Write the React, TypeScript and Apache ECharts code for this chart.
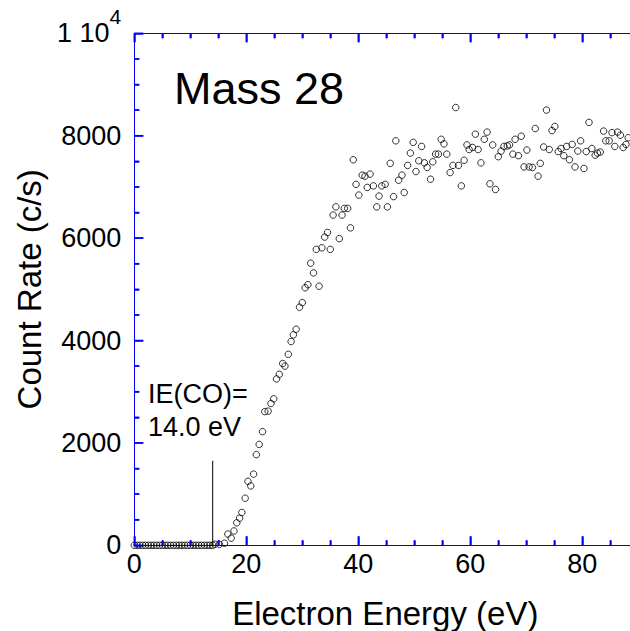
import React, { useEffect, useRef } from "react";
import * as echarts from "echarts";

const energies = [
  0, 0.5, 1, 1.5, 2, 2.5, 3, 3.5, 4, 4.5, 5, 5.5, 6, 6.5, 7, 7.5, 8, 8.5, 9, 9.5,
  10, 10.5, 11, 11.5, 12, 12.5, 13, 13.5, 14,
  14.4, 15.2, 16.1, 16.7, 17.3, 17.8, 18.3, 18.8, 19.2, 19.8,
  20.3, 20.8, 21.3, 21.8, 22.3, 22.9, 23.3, 23.9, 24.4, 24.9,
  25.4, 25.9, 26.5, 26.9, 27.5, 28.0, 28.4, 28.9, 29.5, 30.0,
  30.5, 31.0, 31.5, 32.0, 32.5, 33.0, 33.5, 34.0, 34.5, 35.0,
  35.5, 36.0, 36.6, 37.1, 37.5, 38.1, 38.6, 39.1, 39.6, 40.1,
  40.7, 41.2, 41.6, 42.1, 42.7, 43.3, 43.7, 44.2, 44.8, 45.2,
  45.7, 46.3, 46.7, 47.2, 47.8, 48.2, 48.8, 49.3, 49.8, 50.3,
  50.8, 51.3, 51.8, 52.3, 52.9, 53.3, 53.8, 54.3, 54.8, 55.3,
  55.8, 56.4, 56.9, 57.4, 57.9, 58.4, 58.9, 59.4, 59.8, 60.4,
  60.9, 61.4, 61.9, 62.5, 63.0, 63.5, 64.0, 64.5, 65.0, 65.5,
  66.0, 66.6, 67.0, 67.6, 68.0, 68.6, 69.1, 69.6, 70.1, 70.5,
  71.1, 71.6, 72.1, 72.5, 73.1, 73.6, 74.1, 74.6, 75.1, 75.7,
  76.2, 76.7, 77.2, 77.7, 78.2, 78.7, 79.2, 79.7, 80.3, 80.7,
  81.2, 81.7, 82.3, 82.7, 83.2, 83.8, 84.2, 84.8, 85.3, 85.8,
  86.3, 86.8, 87.3, 87.8, 88.2,
];

// Count rate (c/s) of every point, same order as energies
const counts = [
  0, 0, 0, 0, 0, 0, 0, 0, 0, 0, 0, 0, 0, 0, 0, 0, 0, 0, 0, 0,
  0, 0, 0, 0, 0, 0, 0, 0, 0,
  20, 20, 40, 220, 140, 280, 440, 530, 640, 920,
  1250, 1160, 1390, 1770, 1970, 2220, 2610, 2620, 2770, 2860,
  3250, 3340, 3550, 3500, 3730, 3980, 4110, 4220, 4650, 4740,
  5030, 5090, 5510, 5320, 5780, 5060, 5810, 6020, 6110, 5780,
  6450, 6610, 5990, 6450, 6580, 6580, 6200, 7530, 7050, 6840,
  7230, 7210, 6990, 7250, 7020, 6610, 6820, 7020, 7050, 6610,
  7460, 6810, 7900, 7130, 7230, 6890, 7420, 7660, 7870, 7300,
  7510, 7790, 7470, 7380, 7150, 7490, 7640, 7640, 7930, 7840,
  7640, 7280, 7420, 8550, 7420, 7020, 7520, 7820, 7730, 7770,
  8030, 7730, 7470, 7930, 8070, 7060, 7820, 6950, 7590, 7700,
  7790, 7800, 7820, 7640, 7930, 7610, 7990, 7390, 7720, 7390,
  7380, 8140, 7210, 7460, 7780, 8500, 7730, 8100, 8180, 7690,
  7750, 7610, 7790, 7530, 7830, 7390, 7700, 7900, 7360, 7690,
  8260, 7750, 7620, 7660, 7680, 8090, 7900, 7900, 8060, 7790,
  8070, 8010, 7770, 7830, 7960,
];

// Ionisation-energy marker
const ieEnergy = 14.0;
const ieLineTop = 1650;

// Tick positions of the frame (ticks point into the plot)
const xTickValues = [0, 5, 10, 15, 20, 25, 30, 35, 40, 45, 50, 55, 60, 65, 70, 75, 80, 85, 90];
const yTickValues = [
  0, 500, 1000, 1500, 2000, 2500, 3000, 3500, 4000, 4500, 5000,
  5500, 6000, 6500, 7000, 7500, 8000, 8500, 9000, 9500, 10000,
];
const xMajorStep = 20;
const yMajorStep = 2000;

const titleText = "Mass 28";
const ieLabelLines = ["IE(CO)=", "14.0 eV"];

const FONT = "'Liberation Sans', Arial, Helvetica, sans-serif";
const BLUE = "#0000ff";

const W = 630;
const H = 631;
const MAJOR_LEN = 9;
const MINOR_LEN = 5;
const TICK_W = 1.5;

export default function App() {
  const ref = useRef<HTMLDivElement>(null);

  useEffect(() => {
    if (!ref.current) return;
    const chart = echarts.init(ref.current, undefined, { renderer: "svg" });

    const points = energies.map((e, i) => [e, counts[i]]);

    // [side, value, isMajor]: side 0 = bottom, 1 = top, 2 = left
    const tickItems = [
      ...xTickValues.map((v) => [0, v, v % xMajorStep === 0 ? 1 : 0]),
      ...xTickValues.map((v) => [1, v, v % xMajorStep === 0 ? 1 : 0]),
      ...yTickValues.map((v) => [2, v, v % yMajorStep === 0 ? 1 : 0]),
    ];

    const line = () => ({ show: true, onZero: false, lineStyle: { color: BLUE, width: 1 } });
    const tick = () => ({ show: true, inside: true, length: MAJOR_LEN, lineStyle: { color: BLUE, width: TICK_W } });
    const minor = () => ({ show: true, splitNumber: 4, length: MINOR_LEN, lineStyle: { color: BLUE, width: TICK_W } });
    const noSplit = { splitLine: { show: false }, minorSplitLine: { show: false } };

    const X_MIN = 0, X_MAX = 100, Y_MIN = 0, Y_MAX = 10000;

    chart.setOption({
      animation: false,
      backgroundColor: "#ffffff",
      grid: {
        left: 134.3,
        top: 33.3,
        bottom: 85.7,
        right: -64.3,
        containLabel: false,
        outerBoundsMode: "none",
      },
      xAxis: [
        {
          type: "value",
          min: X_MIN,
          max: X_MAX,
          interval: 20,
          position: "bottom",
          axisLine: line(),
          axisTick: tick(),
          minorTick: minor(),
          ...noSplit,
          axisLabel: {
            show: true,
            fontSize: 27,
            color: "#000",
            fontFamily: FONT,
            margin: 5,
            showMaxLabel: false,
          },
          name: "Electron Energy (eV)",
          nameLocation: "middle",
          nameGap: 52,
          nameTextStyle: {
            fontSize: 33,
            color: "#000",
            fontFamily: FONT,
            padding: [0, 58, 0, 0],
          },
        },
        {
          type: "value",
          min: X_MIN,
          max: X_MAX,
          interval: 20,
          position: "top",
          axisLine: line(),
          axisTick: tick(),
          minorTick: minor(),
          axisLabel: { show: false },
          ...noSplit,
        },
      ],
      yAxis: [
        {
          type: "value",
          min: Y_MIN,
          max: Y_MAX,
          interval: 2000,
          position: "left",
          axisLine: line(),
          axisTick: tick(),
          minorTick: minor(),
          ...noSplit,
          axisLabel: {
            show: true,
            fontSize: 27,
            color: "#000",
            fontFamily: FONT,
            margin: 13,
            formatter: (v: number) => (v === 10000 ? "{a|1 10}{b|4}" : String(v)),
            rich: {
              a: { fontSize: 27, color: "#000", fontFamily: FONT, lineHeight: 54 },
              b: { fontSize: 21, color: "#000", fontFamily: FONT, verticalAlign: "top" },
            },
          },
          name: "Count Rate (c/s)",
          nameLocation: "middle",
          nameGap: 88,
          nameTextStyle: { fontSize: 33, color: "#000", fontFamily: FONT },
        },
      ],
      series: [
        {
          type: "scatter",
          xAxisIndex: 0,
          yAxisIndex: 0,
          data: points,
          symbol: "circle",
          symbolSize: 6.5,
          clip: true,
          itemStyle: { color: "rgba(0,0,0,0)", borderColor: "#000", borderWidth: 1 },
          silent: true,
          z: 3,
        },
        {
          type: "line",
          xAxisIndex: 0,
          yAxisIndex: 0,
          data: [
            [ieEnergy, 0],
            [ieEnergy, ieLineTop],
          ],
          symbol: "none",
          lineStyle: { color: "#000", width: 1 },
          silent: true,
          z: 2,
        },
        {
          // inward-pointing frame ticks, positioned through the axes' scales
          type: "custom",
          xAxisIndex: 0,
          yAxisIndex: 0,
          data: tickItems,
          clip: false,
          silent: true,
          z: 4,
          renderItem: (_params: any, api: any) => {
            const side = api.value(0);
            const v = api.value(1);
            const len = api.value(2) ? MAJOR_LEN : MINOR_LEN;
            const style = { stroke: BLUE, lineWidth: TICK_W, fill: null };
            if (side === 2) {
              const p = api.coord([X_MIN, v]);
              return { type: "line", shape: { x1: p[0], y1: p[1], x2: p[0] + len, y2: p[1] }, style };
            }
            if (side === 1) {
              const p = api.coord([v, Y_MAX]);
              return { type: "line", shape: { x1: p[0], y1: p[1], x2: p[0], y2: p[1] + len }, style };
            }
            const p = api.coord([v, Y_MIN]);
            return { type: "line", shape: { x1: p[0], y1: p[1], x2: p[0], y2: p[1] - len }, style };
          },
        },
      ],
      graphic: [
        {
          type: "text",
          x: 174,
          y: 88.5,
          style: { text: titleText, fontSize: 45, fontFamily: FONT, fill: "#000", verticalAlign: "middle", align: "left" },
        },
        {
          type: "text",
          x: 148,
          y: 394,
          style: { text: ieLabelLines[0], fontSize: 27, fontFamily: FONT, fill: "#000", verticalAlign: "middle", align: "left" },
        },
        {
          type: "text",
          x: 148,
          y: 427,
          style: { text: ieLabelLines[1], fontSize: 27, fontFamily: FONT, fill: "#000", verticalAlign: "middle", align: "left" },
        },
      ],
    });

    return () => chart.dispose();
  }, []);

  return (
    <div
      ref={ref}
      style={{ position: "absolute", left: 0, top: 0, width: W, height: H, background: "#fff" }}
    />
  );
}
